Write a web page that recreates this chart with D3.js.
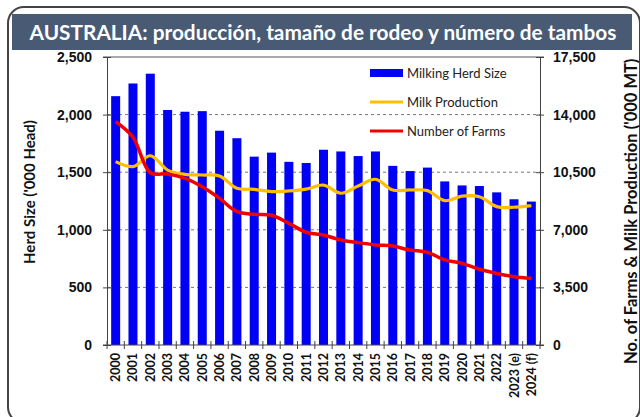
<!DOCTYPE html>
<html>
<head>
<meta charset="utf-8">
<script src="https://cdn.jsdelivr.net/npm/d3@7"></script>
<style>
  body { margin: 0; background: #fff; }
  svg { display: block; font-family: Lato, "Open Sans", sans-serif; }
  .tick text { font-weight: bold; fill: #111; }
</style>
</head>
<body>
<div id="main"></div>
<script>
const years = ['2000', '2001', '2002', '2003', '2004', '2005', '2006', '2007', '2008', '2009',
  '2010', '2011', '2012', '2013', '2014', '2015', '2016', '2017', '2018', '2019',
  '2020', '2021', '2022', '2023 (e)', '2024 (f)'];
const herdSize = [2160, 2270, 2355, 2040, 2025, 2030, 1860, 1795, 1635, 1670,
  1590, 1580, 1695, 1680, 1640, 1680, 1555, 1510, 1540, 1420,
  1385, 1380, 1325, 1265, 1245];
const milkProduction = [11140, 10840, 11500, 10630, 10370, 10330, 10270, 9520, 9460, 9320,
  9360, 9470, 9720, 9220, 9660, 10070, 9420, 9420, 9380, 8770,
  9050, 9010, 8410, 8370, 8470];
const farms = [13570, 12620, 10470, 10390, 10130, 9620, 8910, 8100, 7940, 7880,
  7390, 6850, 6680, 6380, 6220, 6080, 6010, 5770, 5630, 5170,
  4960, 4600, 4350, 4150, 4050];
const leftTicks = [0, 500, 1000, 1500, 2000, 2500];
const rightTicks = [0, 3500, 7000, 10500, 14000, 17500];

const width = 640;
const height = 417;
const plot = { left: 107, right: 540, top: 57, bottom: 345 };

const svg = d3.select('#main')
  .append('svg')
  .attr('width', width)
  .attr('height', height);

// outer rounded frame
svg.append('rect')
  .attr('x', 8).attr('y', 7)
  .attr('width', 632).attr('height', 416)
  .attr('rx', 16)
  .attr('fill', 'none')
  .attr('stroke', '#444')
  .attr('stroke-width', 2);

const xScale = d3.scaleBand()
  .domain(years)
  .range([plot.left, plot.right])
  .paddingInner(0.48)
  .paddingOuter(0.24);

const yLeft = d3.scaleLinear()
  .domain([0, 2500])
  .range([plot.bottom, plot.top]);

const yRight = d3.scaleLinear()
  .domain([0, 17500])
  .range([plot.bottom, plot.top]);

// dashed gridlines
svg.append('g')
  .selectAll('line')
  .data(leftTicks.slice(1, -1))
  .enter()
  .append('line')
  .attr('x1', plot.left)
  .attr('x2', plot.right)
  .attr('y1', d => yLeft(d))
  .attr('y2', d => yLeft(d))
  .attr('stroke', '#777')
  .attr('stroke-width', 1)
  .attr('stroke-dasharray', '3,3');

// top border of plot area
svg.append('line')
  .attr('x1', plot.left - 4).attr('x2', plot.right + 4)
  .attr('y1', plot.top).attr('y2', plot.top)
  .attr('stroke', '#555');

svg.selectAll('.bar')
  .data(herdSize)
  .enter()
  .append('rect')
  .attr('class', 'bar')
  .attr('x', (d, i) => xScale(years[i]))
  .attr('y', d => yLeft(d))
  .attr('width', xScale.bandwidth())
  .attr('height', d => plot.bottom - yLeft(d))
  .attr('fill', '#0000f5');

const cx = (d, i) => xScale(years[i]) + xScale.bandwidth() / 2;

const line = d3.line()
  .x(cx)
  .y(d => yRight(d))
  .curve(d3.curveCatmullRom.alpha(0.5));

svg.append('path')
  .datum(milkProduction)
  .attr('d', line)
  .attr('fill', 'none')
  .attr('stroke', '#ffbf00')
  .attr('stroke-width', 3.2);

svg.append('path')
  .datum(farms)
  .attr('d', line)
  .attr('fill', 'none')
  .attr('stroke', '#f00000')
  .attr('stroke-width', 3.5);

// axes
const leftAxis = d3.axisLeft(yLeft)
  .tickValues(leftTicks)
  .tickFormat(d3.format(','))
  .tickSizeInner(4)
  .tickSizeOuter(0)
  .tickPadding(11);

const rightAxis = d3.axisRight(yRight)
  .tickValues(rightTicks)
  .tickFormat(d3.format(','))
  .tickSizeInner(4)
  .tickSizeOuter(0)
  .tickPadding(9);

const gl = svg.append('g')
  .attr('transform', `translate(${plot.left}, 0)`)
  .call(leftAxis);
gl.selectAll('.tick line').attr('x1', 4).attr('stroke', '#444');
gl.select('.domain').attr('stroke', '#444');
gl.selectAll('.tick text').style('font-size', '14px');

const gr = svg.append('g')
  .attr('transform', `translate(${plot.right}, 0)`)
  .call(rightAxis);
gr.selectAll('.tick line').attr('x1', -4).attr('stroke', '#444');
gr.select('.domain').attr('stroke', '#444');
gr.selectAll('.tick text').style('font-size', '14px');

// x axis with boundary ticks
const gx = svg.append('g')
  .attr('transform', `translate(0, ${plot.bottom})`);
gx.append('line')
  .attr('x1', plot.left - 4).attr('x2', plot.right + 4)
  .attr('stroke', '#444');
gx.selectAll('.bt')
  .data(d3.range(years.length + 1))
  .enter()
  .append('line')
  .attr('x1', i => plot.left + i * (plot.right - plot.left) / years.length)
  .attr('x2', i => plot.left + i * (plot.right - plot.left) / years.length)
  .attr('y1', -4).attr('y2', 4)
  .attr('stroke', '#444');
gx.selectAll('.xl')
  .data(years)
  .enter()
  .append('text')
  .attr('transform', d => `translate(${xScale(d) + xScale.bandwidth() / 2 + 4.5}, 8) rotate(-90)`)
  .style('text-anchor', 'end')
  .style('font-size', '12.5px')
  .style('font-weight', 'bold')
  .attr('fill', '#111')
  .text(d => d);

// axis titles
svg.append('text')
  .attr('transform', 'translate(35, 192) rotate(-90)')
  .style('text-anchor', 'middle')
  .style('font-size', '15px')
  .style('font-weight', 'bold')
  .attr('fill', '#111')
  .text("Herd Size ('000 Head)");

svg.append('text')
  .attr('transform', 'translate(637, 364) rotate(-90)')
  .style('text-anchor', 'start')
  .style('font-size', '16.5px')
  .style('font-weight', 'bold')
  .attr('fill', '#111')
  .text("No. of Farms & Milk Production ('000 MT)");

// title band
svg.append('rect')
  .attr('x', 12).attr('y', 14)
  .attr('width', 620).attr('height', 36)
  .attr('fill', '#485a74');

svg.append('text')
  .attr('x', 323).attr('y', 39.5)
  .style('text-anchor', 'middle')
  .style('font-size', '20.8px')
  .style('font-weight', 'bold')
  .attr('fill', '#fff')
  .text('AUSTRALIA: producción, tamaño de rodeo y número de tambos');

// legend
const legend = [
  { name: 'Milking Herd Size', color: '#0000f5', type: 'bar' },
  { name: 'Milk Production', color: '#ffbf00', type: 'line' },
  { name: 'Number of Farms', color: '#f00000', type: 'line' }
];
const lg = svg.append('g').attr('transform', 'translate(370, 73)');
legend.forEach((d, i) => {
  const g = lg.append('g').attr('transform', `translate(0, ${i * 29})`);
  if (d.type === 'bar') {
    g.append('rect').attr('x', 0).attr('y', -4).attr('width', 33).attr('height', 8).attr('fill', d.color);
  } else {
    g.append('line').attr('x1', 0).attr('x2', 33).attr('stroke', d.color).attr('stroke-width', 3);
  }
  g.append('text')
    .attr('x', 37).attr('y', 4.5)
    .style('font-size', '13px')
    .attr('fill', '#222')
    .text(d.name);
});
</script>
</body>
</html>
